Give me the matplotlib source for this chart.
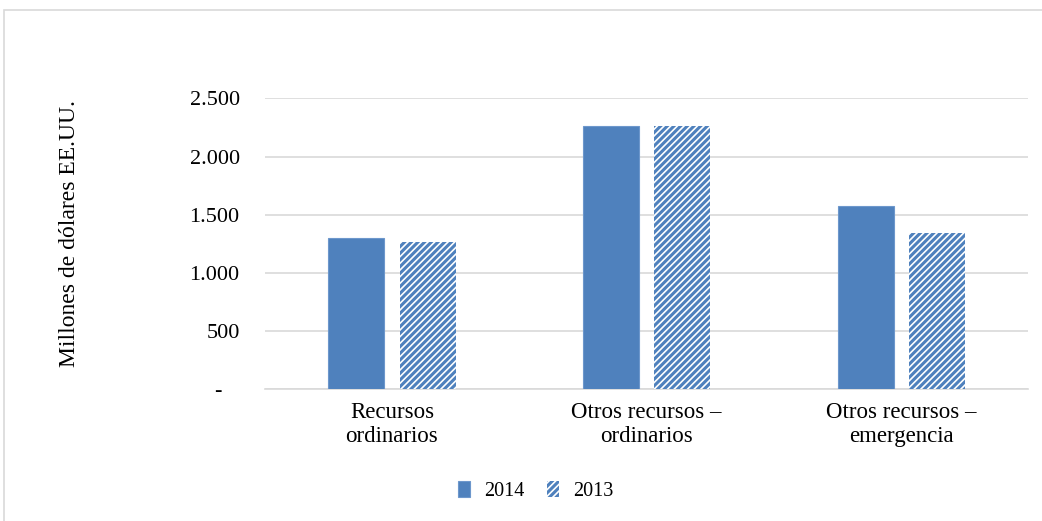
import matplotlib.pyplot as plt
import numpy as np
from matplotlib.patches import Rectangle

categories = ['Recursos\nordinarios', 'Otros recursos –\nordinarios', 'Otros recursos –\nemergencia']
v2014 = [1300, 2265, 1575]
v2013 = [1265, 2265, 1345]
yticks = [0, 500, 1000, 1500, 2000, 2500]
ylabels = ['-   ', '500', '1.000', '1.500', '2.000', '2.500']

blue = '#4f81bd'
plt.rcParams['font.family'] = ['Liberation Serif', 'DejaVu Serif']
plt.rcParams['hatch.linewidth'] = 2.2

fig = plt.figure(figsize=(10.42, 5.21), dpi=100)
fig.patches.append(Rectangle((0.004, -0.01), 1.0, 0.99, transform=fig.transFigure,
                             fill=False, edgecolor='#d9d9d9', linewidth=1.2))
ax = fig.add_axes([0.254, 0.253, 0.733, 0.558])

x = np.arange(len(categories))
w = 0.22
ax.bar(x - 0.14, v2014, w, color=blue, edgecolor='#6d97cc', linewidth=0.8, label='2014', zorder=3)
ax.bar(x + 0.14, v2013, w, color='white', edgecolor=blue, hatch='/////', linewidth=0, label='2013', zorder=3)

ax.set_xlim(-0.5, 2.5)
ax.set_ylim(0, 2500)
ax.set_yticks(yticks)
ax.set_yticklabels(ylabels, fontsize=16)
ax.set_xticks(x)
ax.set_xticklabels(categories, fontsize=16.5, linespacing=1.2)
ax.tick_params(axis='y', length=0, pad=18)
ax.tick_params(axis='x', length=0, pad=9)
ax.grid(axis='y', color='#d9d9d9', linewidth=1.2, zorder=0)
for s in ['top', 'right', 'left']:
    ax.spines[s].set_visible(False)
ax.spines['bottom'].set_color('#d9d9d9')
ax.spines['bottom'].set_linewidth(1.2)

fig.text(0.067, 0.551, 'Millones de dólares EE.UU.', rotation=90, fontsize=17,
         ha='center', va='center')

ax.legend(loc='center', bbox_to_anchor=(0.514, 0.057), bbox_transform=fig.transFigure,
          ncol=2, frameon=False, fontsize=14.5, handlelength=0.6, handleheight=0.8,
          columnspacing=1.15, handletextpad=0.7)

fig.savefig('out.png', dpi=100)
